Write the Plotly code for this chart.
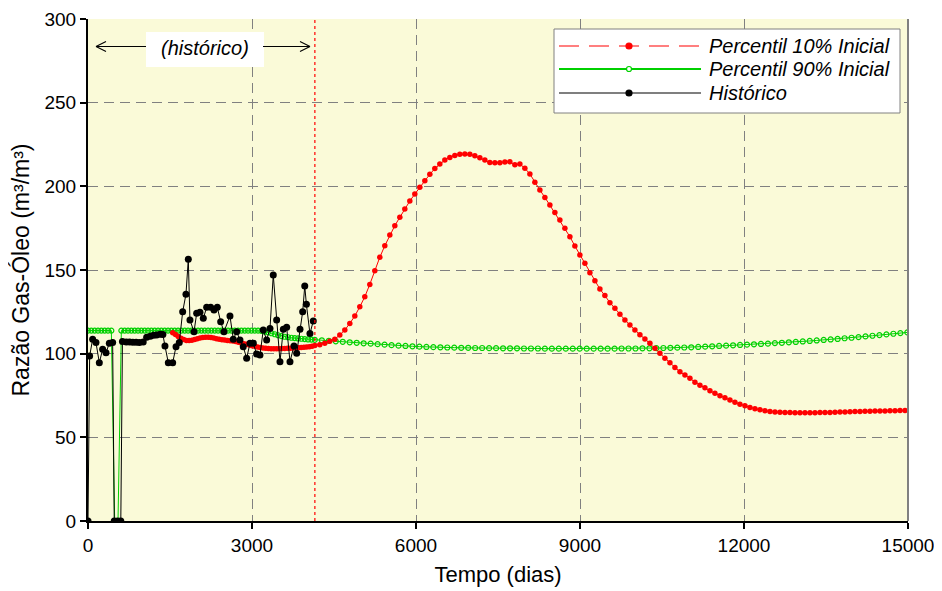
import plotly.graph_objects as go

# ---------------- data ----------------
# Percentil 10% Inicial (red) - history part (dense) and forecast part
red_hist_start, red_hist_step = 1550, 50
red_hist_vals = [112.5, 111.5, 110.3, 109.2, 108.4, 107.9, 107.8, 108.0, 108.4, 108.9,
                 109.3, 109.6, 109.8, 109.8, 109.6, 109.3, 108.9, 108.6, 108.3, 108.1,
                 107.9, 107.7, 107.5, 107.2, 106.8, 106.4, 106.0, 105.6, 105.2, 104.8,
                 104.4, 104.0, 103.7, 103.4, 103.2, 103.1, 103.0, 103.0, 103.0, 103.0,
                 103.1, 103.1, 103.2, 103.3, 103.4, 103.5, 103.6, 103.7, 103.8, 104.0,
                 104.2, 104.5, 104.9]
red_fc_start, red_fc_step = 4240, 91.5
red_fc_vals = [105.4, 106.2, 107.4, 108.6, 111.2, 114.1, 118.1, 122.5, 128.0, 134.0,
               141.4, 149.6, 157.6, 164.5, 170.9, 176.5, 181.5, 186.5, 191.2, 195.4,
               199.4, 203.4, 207.2, 210.6, 213.3, 215.7, 217.3, 218.5, 219.1, 219.3,
               219.1, 218.3, 217.1, 215.7, 214.3, 214.1, 214.1, 214.5, 214.7, 212.9,
               213.3, 210.8, 207.4, 202.4, 197.8, 193.4, 188.8, 184.4, 179.9, 174.9,
               169.9, 164.3, 159.0, 154.0, 148.4, 143.6, 138.6, 134.7, 130.5, 127.1,
               123.5, 120.1, 117.1, 114.1, 111.3, 108.8, 106.2, 103.2, 100.2, 97.2,
               94.6, 91.8, 89.2, 87.3, 85.3, 82.9, 81.1, 79.7, 77.9, 76.3,
               74.9, 73.7, 72.3, 70.9, 69.7, 68.9, 67.9, 67.1, 66.5, 65.9,
               65.5, 65.2, 65.0, 64.9, 64.8, 64.7, 64.7, 64.7, 64.7, 64.7,
               64.8, 64.8, 64.9, 65.0, 65.1, 65.2, 65.3, 65.4, 65.5, 65.6,
               65.6, 65.7, 65.8, 65.8, 65.9, 65.9, 66.0, 66.0]

# Percentil 90% Inicial (green)
green_hist_start, green_hist_step = 0, 61
green_hist_vals = [113.8, 113.8, 113.8, 113.8, 113.8, 113.8, 113.8, 113.8, 0.0, 0.0,
                   113.8, 113.8, 113.8, 113.8, 113.8, 113.8, 113.8, 113.8, 113.8, 113.8,
                   113.8, 113.8, 113.8, 113.8, 113.8, 113.8, 113.8, 113.8, 113.8, 113.8,
                   113.8, 113.8, 113.8, 113.8, 113.8, 113.8, 113.8, 113.8, 113.8, 113.8,
                   113.8, 113.8, 113.8, 113.8, 113.8, 113.8, 113.8, 113.8, 113.8, 113.8,
                   113.8, 113.8, 113.6, 113.2, 112.7, 112.2, 111.6, 111.0, 110.5, 110.1,
                   109.8, 109.5, 109.3, 109.1, 108.9, 108.7, 108.5, 108.4, 108.3]
green_fc_start, green_fc_step = 4277.5, 127.5
green_fc_vals = [108.0, 107.7, 107.4, 107.1, 106.8, 106.5, 106.2, 106.0, 105.7, 105.4,
                 105.1, 104.8, 104.6, 104.4, 104.2, 104.0, 103.9, 103.8, 103.7, 103.6,
                 103.5, 103.5, 103.4, 103.4, 103.3, 103.3, 103.2, 103.2, 103.2, 103.1,
                 103.1, 103.1, 103.0, 103.0, 103.0, 103.0, 103.0, 103.0, 103.0, 103.0,
                 103.0, 103.0, 103.0, 103.1, 103.1, 103.1, 103.2, 103.2, 103.3, 103.4,
                 103.5, 103.6, 103.7, 103.8, 104.0, 104.2, 104.4, 104.6, 104.8, 105.0,
                 105.2, 105.4, 105.6, 105.8, 106.0, 106.3, 106.5, 106.8, 107.0, 107.3,
                 107.6, 107.9, 108.2, 108.5, 108.8, 109.2, 109.5, 109.9, 110.3, 110.7,
                 111.1, 111.5, 111.9, 112.3, 112.7]

# Histórico (black)
hist_t = [0, 30, 85, 146, 207, 268, 329, 390, 451, 480, 540, 600, 630, 700, 760, 820, 880,
          940, 1010, 1073, 1140, 1200, 1256, 1320, 1370, 1408, 1469, 1549, 1610, 1670,
          1732, 1792, 1835, 1865, 1939, 1988, 2048, 2109, 2171, 2244, 2305, 2365, 2427,
          2487, 2597, 2658, 2719, 2780, 2840, 2902, 2963, 3024, 3085, 3146, 3206, 3268,
          3329, 3389, 3451, 3512, 3573, 3634, 3695, 3768, 3817, 3878, 3927, 3965, 3995,
          4060, 4121]
hist_v = [0, 98.6, 108.6, 106.6, 94.6, 102.6, 100.6, 106.2, 106.6, 0, 0, 0, 107.2, 107.0,
          107.0, 106.8, 106.8, 106.6, 107.0, 109.8, 110.4, 111.0, 111.2, 111.6, 111.4,
          104.6, 94.6, 94.6, 104.2, 106.6, 125.1, 135.5, 156.4, 120.1, 113.1, 124.1,
          124.7, 121.1, 127.7, 127.7, 126.1, 127.7, 119.1, 113.1, 122.5, 108.6, 113.1,
          108.2, 104.2, 97.2, 106.2, 106.2, 99.8, 99.2, 114.1, 108.2, 115.1, 147.0,
          120.1, 95.2, 114.6, 115.8, 95.2, 104.6, 100.2, 114.6, 125.1, 140.4, 129.5,
          112.0, 119.5]

history_end = 4150
x_ticks = [0, 3000, 6000, 9000, 12000, 15000]
y_ticks = [0, 50, 100, 150, 200, 250, 300]
legend_names = ["Percentil 10% Inicial", "Percentil 90% Inicial", "Histórico"]

# ---------------- build ----------------
red_t = [red_hist_start + red_hist_step * i for i in range(len(red_hist_vals))] + \
        [red_fc_start + red_fc_step * i for i in range(len(red_fc_vals))]
red_v = red_hist_vals + red_fc_vals
green_t = [green_hist_start + green_hist_step * i for i in range(len(green_hist_vals))] + \
          [green_fc_start + green_fc_step * i for i in range(len(green_fc_vals))]
green_v = green_hist_vals + green_fc_vals

RED = "#FF0000"
GREEN = "#00D000"
FONT = "Liberation Sans, Arial, sans-serif"

fig = go.Figure()
fig.add_trace(go.Scatter(x=green_t, y=green_v, mode="lines+markers", name=legend_names[1],
                         line=dict(color=GREEN, width=1),
                         marker=dict(symbol="circle-open", size=5, color=GREEN,
                                     line=dict(width=1.2, color=GREEN))))
fig.add_trace(go.Scatter(x=red_t, y=red_v, mode="lines+markers", name=legend_names[0],
                         line=dict(color=RED, width=1),
                         marker=dict(symbol="circle", size=5.5, color=RED)))
fig.add_trace(go.Scatter(x=hist_t, y=hist_v, mode="lines+markers", name=legend_names[2],
                         line=dict(color="black", width=1),
                         marker=dict(symbol="circle", size=7, color="black")))

# page has an 8px body margin; figure sized to fit the 942x591 window
OFF = 8
W, H = 934, 583
L, R, T, B = 80, 34, 11, 70
pw, ph = W - L - R, H - T - B


def px2paper(px, py):
    # page pixel -> paper coordinates
    fx, fy = px - OFF, py - OFF
    return (fx - L) / pw, (H - B - fy) / ph


shapes = []
# history end line
shapes.append(dict(type="line", xref="x", yref="paper", x0=history_end, x1=history_end,
                   y0=0, y1=1, line=dict(color=RED, width=1.2, dash="3px,3px"), layer="above"))
# right border
shapes.append(dict(type="line", xref="paper", yref="paper", x0=1, x1=1, y0=0, y1=1,
                   line=dict(color="#808080", width=2)))

# "(histórico)" label box and arrows
bx0, by0 = px2paper(146, 67)
bx1, by1 = px2paper(264, 32)
shapes.append(dict(type="rect", xref="paper", yref="paper", x0=bx0, x1=bx1, y0=by0, y1=by1,
                   fillcolor="white", line=dict(width=0), layer="above"))


def seg(p0, p1, color="black", width=1.2):
    a = px2paper(*p0)
    b = px2paper(*p1)
    return dict(type="line", xref="paper", yref="paper", x0=a[0], y0=a[1], x1=b[0], y1=b[1],
                line=dict(color=color, width=width), layer="above")


ay = 46.5
shapes.append(seg((146, ay), (96, ay)))
shapes.append(seg((96, ay), (106, ay - 5)))
shapes.append(seg((96, ay), (106, ay + 5)))
shapes.append(seg((263, ay), (310, ay)))
shapes.append(seg((310, ay), (300, ay - 5)))
shapes.append(seg((310, ay), (300, ay + 5)))

# legend box
lx0, ly0 = px2paper(554, 113)
lx1, ly1 = px2paper(900, 29)
shapes.append(dict(type="rect", xref="paper", yref="paper", x0=lx0, x1=lx1, y0=ly0, y1=ly1,
                   fillcolor="white", line=dict(color="#808080", width=1), layer="above"))
entry_y = [46, 69, 93]
entry_style = [dict(color=RED, dash="20px,10px"), dict(color=GREEN, dash="solid"),
               dict(color="black", dash="solid")]
for yy, st in zip(entry_y, entry_style):
    s = seg((559, yy), (701, yy), color=st["color"], width=1.2 if st["color"] != GREEN else 2)
    s["line"]["dash"] = st["dash"]
    shapes.append(s)
# legend markers
mx, _ = px2paper(629, 0)
for yy, st, kind in zip(entry_y, entry_style, ["fill", "open", "fill"]):
    _, my = px2paper(0, yy)
    r = 3 if kind != "open" else 2.5
    shapes.append(dict(type="circle", xref="paper", yref="paper", xsizemode="pixel",
                       ysizemode="pixel", xanchor=mx, yanchor=my, x0=-r, x1=r, y0=-r, y1=r,
                       fillcolor=st["color"] if kind == "fill" else "white",
                       line=dict(color=st["color"], width=1.2), layer="above"))

annotations = []
hx, hy = px2paper(205, 48)
annotations.append(dict(xref="paper", yref="paper", x=hx, y=hy, text="<i>(histórico)</i>",
                        showarrow=False, font=dict(family=FONT, size=20, color="black"),
                        xanchor="center", yanchor="middle"))
tx, _ = px2paper(707, 0)
for yy, name in zip(entry_y, legend_names):
    _, ty = px2paper(0, yy)
    annotations.append(dict(xref="paper", yref="paper", x=tx, y=ty, text=f"<i>{name}</i>",
                            showarrow=False, font=dict(family=FONT, size=20, color="black"),
                            xanchor="left", yanchor="middle"))

fig.update_layout(
    width=W, height=H,
    margin=dict(l=L, r=R, t=T, b=B, pad=0, autoexpand=False),
    paper_bgcolor="white",
    plot_bgcolor="#FAFAD8",
    showlegend=False,
    font=dict(family=FONT, size=19, color="black"),
    shapes=shapes,
    annotations=annotations,
)
fig.update_xaxes(range=[0, 15000], tickvals=x_ticks, ticktext=[str(v) for v in x_ticks],
                 automargin=False,
                 showgrid=True, gridcolor="#808080", gridwidth=1, griddash="10px,6px",
                 showline=True, linecolor="black", linewidth=2, ticks="outside", ticklen=6,
                 tickwidth=1.5, tickcolor="black", zeroline=False,
                 tickfont=dict(family=FONT, size=19),
                 title=dict(text="Tempo (dias)", font=dict(family=FONT, size=22), standoff=12))
fig.update_yaxes(range=[0, 300], tickvals=y_ticks, ticktext=[str(v) for v in y_ticks],
                 automargin=False,
                 showgrid=True, gridcolor="#808080", gridwidth=1, griddash="10px,6px",
                 showline=True, linecolor="black", linewidth=2, ticks="outside", ticklen=6,
                 tickwidth=1.5, tickcolor="black", zeroline=False,
                 tickfont=dict(family=FONT, size=19),
                 title=dict(text="Razão Gas-Óleo (m³/m³)", font=dict(family=FONT, size=23),
                            standoff=8))

fig.write_html("out.html")
